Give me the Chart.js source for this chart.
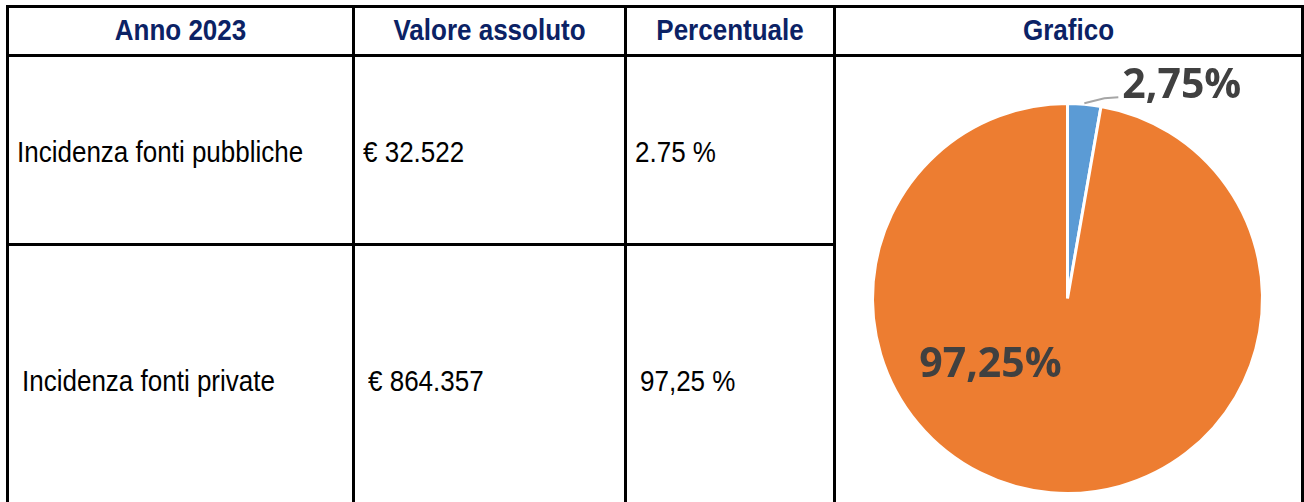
<!DOCTYPE html>
<html>
<head>
<meta charset="utf-8">
<script src="https://cdn.jsdelivr.net/npm/chart.js@4/dist/chart.umd.min.js"></script>
<style>
  html, body { margin:0; padding:0; background:#fff; }
  #wrap { position:relative; width:1304px; height:502px; overflow:hidden; background:#fff; }
  .ln { position:absolute; background:#000; }
  .hd { position:absolute; font-family:"Liberation Sans", Arial, sans-serif; font-weight:bold; font-size:26px; color:#0B2265; text-align:center; line-height:30px; white-space:nowrap; transform:scaleY(1.14); transform-origin:50% 50%; }
  .tx { position:absolute; font-family:"Liberation Sans", Arial, sans-serif; font-size:26px; color:#000; line-height:30px; white-space:nowrap; transform:scaleY(1.14); transform-origin:0 50%; }
  #pieBox { position:absolute; left:836px; top:57px; width:465px; height:445px; }
</style>
</head>
<body>
<div id="wrap">
  <div id="pieBox"><canvas id="pie"></canvas></div>
</div>
<script>
// ---- data ----
const headers = ['Anno 2023', 'Valore assoluto', 'Percentuale', 'Grafico'];
const categories = ['Incidenza fonti pubbliche', 'Incidenza fonti private'];
const absoluteValues = ['€ 32.522', '€ 864.357'];
const percentTexts = ['2.75 %', '97,25 %'];
const pieValues = [2.75, 97.25];
const pieLabels = ['2,75%', '97,25%'];
const pieColors = ['#5B9BD5', '#ED7D31'];

// ---- layout (table grid) ----
const colX = [6, 352, 624, 833, 1301];       // vertical line left edges
const rowY = [5, 54, 243];                     // horizontal line top edges
const lineW = 3;
const rowCenters = [152, 381];
const rowIndent = [0, 5];
const cellPad = 8;

const wrap = document.getElementById('wrap');
function addLine(x, y, w, h) {
  const d = document.createElement('div');
  d.className = 'ln';
  d.style.left = x + 'px'; d.style.top = y + 'px';
  d.style.width = w + 'px'; d.style.height = h + 'px';
  wrap.appendChild(d);
}
colX.forEach(x => addLine(x, rowY[0], lineW, 502 - rowY[0]));
addLine(colX[0], rowY[0], colX[4] + lineW - colX[0], lineW);
addLine(colX[0], rowY[1], colX[4] + lineW - colX[0], lineW);
addLine(colX[0], rowY[2], colX[3] + lineW - colX[0], lineW);

headers.forEach((h, i) => {
  const d = document.createElement('div');
  d.className = 'hd';
  d.textContent = h;
  d.style.left = (colX[i] + lineW) + 'px';
  d.style.width = (colX[i + 1] - colX[i] - lineW) + 'px';
  d.style.top = (30 - 15) + 'px';
  wrap.appendChild(d);
});

const cols = [categories, absoluteValues, percentTexts];
cols.forEach((arr, c) => {
  arr.forEach((t, r) => {
    const d = document.createElement('div');
    d.className = 'tx';
    d.textContent = t;
    d.style.left = (colX[c] + lineW + cellPad + rowIndent[r]) + 'px';
    d.style.top = (rowCenters[r] - 15) + 'px';
    wrap.appendChild(d);
  });
});

// ---- pie ----
const labelPlugin = {
  id: 'pieLabels',
  afterDatasetsDraw(chart) {
    const ctx = chart.ctx;
    const arcs = chart.getDatasetMeta(0).data;
    ctx.save();
    ctx.font = 'bold 41px "Open Sans", "DejaVu Sans", sans-serif';
    ctx.fillStyle = '#404040';
    ctx.textBaseline = 'alphabetic';
    const a0 = arcs[0];
    const mid0 = (a0.startAngle + a0.endAngle) / 2;
    const R = a0.outerRadius;
    const sx = a0.x + Math.cos(mid0) * R;
    const sy = a0.y + Math.sin(mid0) * R;
    ctx.strokeStyle = '#A6A6A6';
    ctx.lineWidth = 2;
    ctx.beginPath();
    ctx.moveTo(sx, sy - 1);
    ctx.lineTo(sx + 20, sy - 6);
    ctx.lineTo(sx + 34, sy - 7);
    ctx.stroke();
    ctx.textAlign = 'left';
    ctx.fillText(pieLabels[0], sx + 38, sy - 6);
    const a1 = arcs[1];
    ctx.textAlign = 'center';
    ctx.fillText(pieLabels[1], a1.x - 0.395 * R, a1.y + 0.40 * R);
    ctx.restore();
  }
};

new Chart(document.getElementById('pie'), {
  type: 'pie',
  data: {
    labels: pieLabels,
    datasets: [{
      data: pieValues,
      backgroundColor: pieColors,
      borderColor: '#FFFFFF',
      borderWidth: 3
    }]
  },
  options: {
    responsive: true,
    maintainAspectRatio: false,
    animation: false,
    layout: { padding: { left: 35, top: 45, right: 37, bottom: 7 } },
    plugins: { legend: { display: false }, tooltip: { enabled: false } }
  },
  plugins: [labelPlugin]
});
</script>
</body>
</html>
